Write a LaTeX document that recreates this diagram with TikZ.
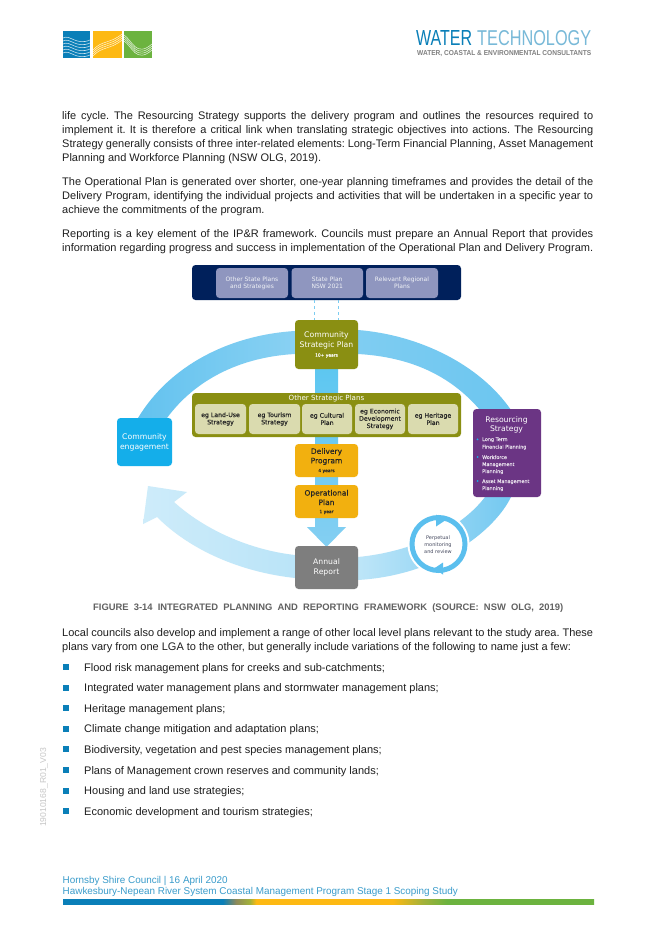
\documentclass[tikz,border=0pt]{standalone}
\usepackage{fontspec}
\setmainfont{Liberation Sans}
\newfontfamily\dia{DejaVu Sans}
\newfontfamily\diab[FakeBold=0.35]{DejaVu Sans}
\newfontfamily\logoF{Liberation Sans}
\usetikzlibrary{calc}
\definecolor{navy}{HTML}{00205B}
\definecolor{navysub}{HTML}{8F96BF}
\definecolor{olivebox}{HTML}{8A8F12}
\definecolor{olivesub}{HTML}{DADBAF}
\definecolor{amberbox}{HTML}{F2B00F}
\definecolor{greybox}{HTML}{7E7E7E}
\definecolor{skybox}{HTML}{14AEEA}
\definecolor{purplebox}{HTML}{6B3584}
\definecolor{ringblue}{HTML}{5BBFEE}
\definecolor{wtblue}{HTML}{0A7FB8}
\definecolor{wtyellow}{HTML}{FDB913}
\definecolor{wtgreen}{HTML}{6CB33F}
\definecolor{foot}{HTML}{3A9CCB}
\definecolor{barmid}{HTML}{8E8A5A}
\definecolor{barolive}{HTML}{A3B23A}
\pgfdeclarehorizontalshading{barshade}{100bp}{color(0bp)=(wtblue); color(40.05bp)=(wtblue); color(41.3bp)=(barmid); color(42.6bp)=(barolive); color(43.2bp)=(wtyellow); color(56.05bp)=(wtyellow); color(58.9bp)=(barolive); color(61.15bp)=(wtgreen); color(100bp)=(wtgreen)}
\tikzset{
  bodyline/.style={anchor=base west,inner sep=0pt,text=black!88,font=\frenchspacing\fontsize{11}{12}\selectfont},
  dbox/.style={rounded corners=3.5pt,fill=#1,draw=none},
  wtxt/.style={text=white,font=\dia\fontsize{7.7}{9.4}\selectfont},
  subtxt/.style={text=white!88!navysub,font=\dia\fontsize{6}{7.3}\selectfont},
  egtxt/.style={text=black!85,font=\diab\fontsize{6.2}{7.3}\selectfont},
  darktxt/.style={text=black!85,font=\diab\fontsize{7.5}{9.4}\selectfont},
  smallb/.style={font=\diab\fontsize{4.4}{5}\selectfont},
  restxt/.style={anchor=base west,inner sep=0pt,text=white!85!purplebox,font=\diab\fontsize{4.9}{6}\selectfont},
  revtxt/.style={anchor=base,inner sep=0pt,text=black!50!navysub,font=\dia\fontsize{5}{6.5}\selectfont},
  dashline/.style={draw=ringblue!80,line width=0.8pt,dash pattern=on 3pt off 3pt},
  squig/.style={draw=white,line width=0.55pt,opacity=0.8},
  square/.style={inner sep=0pt,minimum size=6pt,fill=wtblue},
}
\newcommand{\bx}[7]{\pgfmathsetmacro\cx{(#2+#4)/2}\pgfmathsetmacro\cy{(#3+#5)/2}\pgfmathsetmacro\ww{#4-#2}\pgfmathsetmacro\hh{#5-#3}\node[dbox=#6,minimum width=\ww pt,minimum height=\hh pt,inner sep=0pt,align=center] (#1) at (\cx,\cy) {#7};}
\newcommand{\jline}[3]{\node[bodyline] (#1) at (62,#2) {\makebox[531pt][s]{#3}};}
\newcommand{\pline}[3]{\node[bodyline] (#1) at (62,#2) {#3};}
\begin{document}
\begin{tikzpicture}[x=1pt,y=-1pt]
\useasboundingbox (0,0) rectangle (656,928);
\fill[white] (0,0) rectangle (656,928);

% ---- logo left
\fill[wtblue] (63,31) rectangle (90,58);
\fill[wtyellow] (93,31) rectangle (122,58);
\fill[wtgreen] (124,31) rectangle (152,58);
\begin{scope}
\clip (63,31) rectangle (90,58);
\foreach \d in {0,3,6,9,12,15}{
 \draw[squig] (63,38+\d) .. controls (70,34+\d) and (76,46+\d) .. (90,40+\d);}
\end{scope}
\begin{scope}
\clip (93,31) rectangle (122,58);
\foreach \d in {0,2,4,6}{
 \draw[squig] (93,50+\d) .. controls (102,40+\d) and (110,44+\d) .. (122,34+\d);}
\end{scope}
\begin{scope}
\clip (124,31) rectangle (152,58);
\foreach \d in {0,2,4,6}{
 \draw[squig] (124,35+\d) .. controls (132,40+\d) and (136,58+\d) .. (152,44+\d);}
\end{scope}

% ---- logo right
\node[anchor=base west,inner sep=0pt,text=wtblue] (wtA) at (416,46) {\logoF\resizebox{56pt}{15pt}{WATER}};
\node[anchor=base west,inner sep=0pt,text=wtblue!55] (wtB) at (477,46) {\logoF\resizebox{114pt}{15pt}{TECHNOLOGY}};
\node[anchor=base west,inner sep=0pt,text=black!50] (wtC) at (417,56) {\logoF\bfseries\resizebox{174pt}{5pt}{WATER, COASTAL \& ENVIRONMENTAL CONSULTANTS}};

% ---- body text
\jline{t1}{120}{life cycle. The Resourcing Strategy supports the delivery program and outlines the resources required to}
\jline{t2}{133.5}{implement it. It is therefore a critical link when translating strategic objectives into actions. The Resourcing}
\jline{t3}{147.5}{Strategy generally consists of three inter-related elements: Long-Term Financial Planning, Asset Management}
\pline{t4}{161}{Planning and Workforce Planning (NSW OLG, 2019).}
\jline{t5}{185.5}{The Operational Plan is generated over shorter, one-year planning timeframes and provides the detail of the}
\jline{t6}{199.5}{Delivery Program, identifying the individual projects and activities that will be undertaken in a specific year to}
\pline{t7}{213}{achieve the commitments of the program.}
\jline{t8}{237.5}{Reporting is a key element of the IP\&R framework. Councils must prepare an Annual Report that provides}
\jline{t9}{251}{information regarding progress and success in implementation of the Operational Plan and Delivery Program.}

% ---- ring
\shade[left color=ringblue!95!white,right color=ringblue!72!white]
 (138,418) .. controls (170,365) and (230,335) .. (295,331) -- (295,354) .. controls (240,357) and (195,380) .. (167,418) -- cycle;
\shade[left color=ringblue!78!white,right color=ringblue!90!white]
 (358,330) .. controls (420,335) and (480,365) .. (511,410) -- (480,410) .. controls (450,375) and (410,357) .. (358,354) -- cycle;
\shade[left color=ringblue!40!white,right color=ringblue!85!white]
 (358,580) .. controls (440,575) and (495,530) .. (511,497) -- (485,497) .. controls (460,530) and (410,552) .. (358,557) -- cycle;
\shade[left color=ringblue!30!white,right color=ringblue!42!white]
 (295,555) .. controls (250,550) and (205,530) .. (174,502) -- (187,492) -- (148,486) -- (143,524) -- (157,517) .. controls (190,550) and (240,572) .. (295,578) -- cycle;
\shade[top color=skybox!70!white,bottom color=ringblue!75!white]
 (315,354) -- (338,354) -- (338,527) -- (346,527) -- (326.5,547) -- (307,527) -- (315,527) -- cycle;

% ---- top band
\bx{dark}{192}{265}{461}{300}{navy}{}
\bx{sp1}{216}{268}{288}{298}{navysub}{}
\node[subtxt,align=center,inner sep=0pt] (sp1t) at (sp1) {Other State Plans\\and Strategies};
\bx{sp2}{291.5}{268}{363}{298}{navysub}{}
\node[subtxt,align=center,inner sep=0pt] (sp2t) at (sp2) {State Plan\\NSW 2021};
\bx{sp3}{366}{268}{438}{298}{navysub}{}
\node[subtxt,align=center,inner sep=0pt] (sp3t) at (sp3) {Relevant Regional\\Plans};

% ---- community strategic plan
\bx{csp}{295}{320}{358}{369}{olivebox}{}
\node[wtxt,align=center,inner sep=0pt] (cspt) at (326.5,340.5) {Community\\Strategic Plan};
\node[smallb,text=white,inner sep=0pt] (cspy) at (326.5,355.5) {10+ years};
\coordinate (dA) at (314,300); \coordinate (dB) at (314,320);
\coordinate (dC) at (338,300); \coordinate (dD) at (338,320);
\draw[dashline] (dA) -- (dB);
\draw[dashline] (dC) -- (dD);

% ---- other strategic plans
\bx{osp}{192}{393}{461}{437}{olivebox}{}
\node[text=white,inner sep=0pt,font=\dia\fontsize{7.1}{8}\selectfont] (ospt) at (326.5,398.5) {Other Strategic Plans};
\bx{e1}{195}{404}{246}{434}{olivesub}{}
\node[egtxt,align=center,inner sep=0pt] (e1t) at (e1) {eg Land-Use\\Strategy};
\bx{e2}{249}{404}{300}{434}{olivesub}{}
\node[egtxt,align=center,inner sep=0pt] (e2t) at (e2) {eg Tourism\\Strategy};
\bx{e3}{302}{404}{352}{434}{olivesub}{}
\node[egtxt,align=center,inner sep=0pt] (e3t) at (e3) {eg Cultural\\Plan};
\bx{e4}{355}{404}{405}{434}{olivesub}{}
\node[egtxt,align=center,inner sep=0pt] (e4t) at (e4) {eg Economic\\Development\\Strategy};
\bx{e5}{408}{404}{458}{434}{olivesub}{}
\node[egtxt,align=center,inner sep=0pt] (e5t) at (e5) {eg Heritage\\Plan};

% ---- delivery, operational, annual
\bx{del}{295}{444}{358}{477}{amberbox}{}
\node[darktxt,align=center,inner sep=0pt] (delt) at (326.5,456.5) {Delivery\\Program};
\node[smallb,text=black!85,inner sep=0pt] (dely) at (326.5,471) {4 years};
\bx{ope}{295}{485}{358}{518}{amberbox}{}
\node[darktxt,align=center,inner sep=0pt] (opet) at (326.5,497.5) {Operational\\Plan};
\node[smallb,text=black!85,inner sep=0pt] (opey) at (326.5,512) {1 year};
\bx{ann}{295}{546}{358}{589}{greybox}{}
\node[wtxt,align=center,inner sep=0pt] (annt) at (ann) {Annual\\Report};

% ---- community engagement
\bx{com}{117}{418}{172}{466}{skybox}{}
\node[wtxt,align=center,inner sep=0pt] (comt) at (144.5,442.5) {Community\\engagement};

% ---- resourcing
\bx{res}{473}{409}{541}{497}{purplebox}{}
\node[wtxt,align=center,inner sep=0pt] (rest) at (506.5,424.7) {Resourcing\\Strategy};
\foreach \n/\y/\s in {a/441/Long Term,b/448.5/Financial Planning,c/459/Workforce,d/466/Management,e/473/Planning,f/483/Asset Management,g/490/Planning}{
  \node[restxt] (r\n) at (482,\y) {\s};}
\foreach \n/\y in {a/439.3,c/457,f/481}{
  \node[circle,inner sep=0pt,minimum size=2pt,fill=skybox] (rb\n) at (477.5,\y) {};}

% ---- monitoring circle
\coordinate (mc) at (438.5,544);
\fill[white] (mc) circle[radius=31pt];
\draw[ringblue,line width=5pt] (mc) circle[radius=26.5pt];
\fill[ringblue] (436,514.5) -- (445,520.5) -- (436,526.5) -- cycle;
\fill[ringblue] (443,562.5) -- (434,568.5) -- (443,574.5) -- cycle;
\node[revtxt] (m1) at (438,539.5) {Perpetual};
\node[revtxt] (m2) at (438,546.5) {monitoring};
\node[revtxt] (m3) at (438,553.5) {and review};

% ---- caption
\node[anchor=base west,inner sep=0pt,text=black!62,font=\frenchspacing\bfseries\fontsize{9.4}{10}\selectfont] (cap) at (93,610) {\makebox[470pt][s]{FIGURE 3-14 INTEGRATED PLANNING AND REPORTING FRAMEWORK (SOURCE: NSW OLG, 2019)}};

\jline{u1}{636.5}{Local councils also develop and implement a range of other local level plans relevant to the study area. These}
\pline{u2}{650}{plans vary from one LGA to the other, but generally include variations of the following to name just a few:}

\foreach \n/\y/\s in {1/667/Flood risk management plans for creeks and sub-catchments;,
 2/687.5/Integrated water management plans and stormwater management plans;,
 3/708/Heritage management plans;,
 4/728.7/Climate change mitigation and adaptation plans;,
 5/749.3/Biodiversity{,} vegetation and pest species management plans;,
 6/770/Plans of Management crown reserves and community lands;,
 7/790.5/Housing and land use strategies;,
 8/811/Economic development and tourism strategies;}{
  \node[square] (bs\n) at (66,\y) {};
  \node[bodyline] (bt\n) at (84,\y+4) {\s};
}

\node[rotate=90,anchor=base,inner sep=0pt,text=black!22,font=\fontsize{8.6}{9}\selectfont] (side) at (46,787.5) {19010168\_R01\_V03};

% ---- footer
\node[anchor=base west,inner sep=0pt,text=foot,font=\fontsize{9.9}{12}\selectfont] (f1) at (62.5,883) {Hornsby Shire Council | 16 April 2020};
\node[anchor=base west,inner sep=0pt,text=foot,font=\fontsize{9.9}{12}\selectfont] (f2) at (62.5,894) {Hawkesbury-Nepean River System Coastal Management Program Stage 1 Scoping Study};
\shade[shading=barshade] (63,899) rectangle (594,904);
\end{tikzpicture}
\end{document}
